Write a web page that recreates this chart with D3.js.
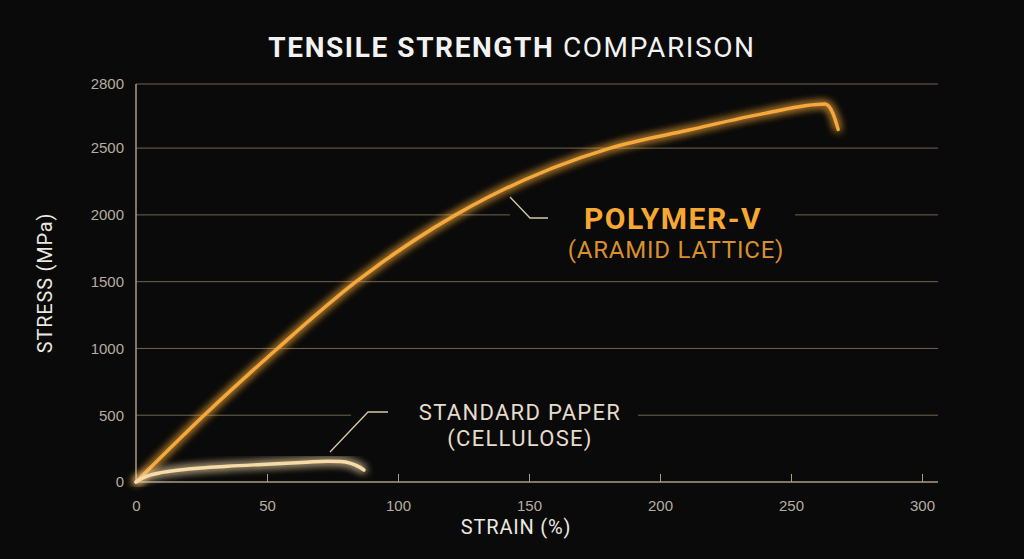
<!DOCTYPE html><html><head><meta charset="utf-8">
<script src="https://cdn.jsdelivr.net/npm/d3@7"></script>
<style>body{margin:0;background:#0a0a0a;}svg{display:block;font-family:Roboto,"DejaVu Sans",sans-serif;}</style>
</head><body><svg id="c" width="1024" height="559"></svg>
<script>
const polymerStrain=[0,26,54,84,122,181,211,240,263,266,268];
const polymerStress=[0,500,1000,1500,2000,2500,2635,2760,2830,2760,2640];
const paperStrain=[0,2,5,10,20,35,50,65,73,78,82,85,87];
const paperStress=[0,25,50,72,97,118,133,148,156,154,140,115,90];
const xTicks=[0,50,100,150,200,250,300];
const yTicks=[0,500,1000,1500,2000,2500,2980];
const yTickLabels=["0","500","1000","1500","2000","2500","2800"];

const svg=d3.select("#c");
const x=d3.scaleLinear().domain([0,300]).range([136,922]);
const y=d3.scaleLinear().domain([0,2980]).range([482,84]);
const defs=svg.append("defs");
const f=defs.append("filter").attr("id","glow").attr("x","-20%").attr("y","-20%").attr("width","140%").attr("height","140%");
f.append("feGaussianBlur").attr("stdDeviation",4).attr("result","b");
const m=f.append("feMerge");m.append("feMergeNode").attr("in","b");m.append("feMergeNode").attr("in","b");m.append("feMergeNode").attr("in","SourceGraphic");

svg.append("g").selectAll("line").data(yTicks.slice(1)).join("line")
 .attr("x1",136).attr("x2",938).attr("y1",d=>y(d)).attr("y2",d=>y(d))
 .attr("stroke","#6e6550").attr("stroke-width",1);
svg.append("rect").attr("x",510).attr("y",205).attr("width",285).attr("height",20).attr("fill","#0a0a0a");
svg.append("rect").attr("x",351).attr("y",405).attr("width",287).attr("height",16).attr("fill","#0a0a0a");

const ya=svg.append("g").attr("transform","translate(136,0)")
 .call(d3.axisLeft(y).tickValues(yTicks).tickFormat((d,i)=>yTickLabels[i]).tickSize(0).tickPadding(12));
const xa=svg.append("g").attr("transform","translate(0,482)")
 .call(d3.axisBottom(x).tickValues(xTicks).tickSize(-8).tickPadding(10));
[ya,xa].forEach(a=>{a.selectAll(".domain").attr("stroke","#a89d88").attr("stroke-width",1.5);
 a.selectAll("line").attr("stroke","#a89d88");
 a.selectAll("text").attr("fill","#b5ada0").attr("font-size",15);});
xa.select(".domain").attr("d","M136,0H938");
xa.selectAll(".tick text").attr("y",18);
ya.select(".domain").attr("d","M0,84V482");

const lc=d3.line().x(d=>x(d[0])).y(d=>y(d[1])).curve(d3.curveMonotoneX);
const poly=polymerStrain.map((s,i)=>[s,polymerStress[i]]);
const pap=paperStrain.map((s,i)=>[s,paperStress[i]]);
svg.append("path").attr("d",lc(poly)).attr("fill","none").attr("stroke","#f5a83a").attr("stroke-width",3.5).attr("filter","url(#glow)").attr("stroke-linecap","round");
svg.append("path").attr("d",lc(pap)).attr("fill","none").attr("stroke","#f6dba8").attr("stroke-width",3.5).attr("filter","url(#glow)").attr("stroke-linecap","round");

svg.append("path").attr("d","M510,197L530,218H548").attr("fill","none").attr("stroke","#d8c8a8").attr("stroke-width",1.3);
svg.append("path").attr("d","M330,452L368,412H388").attr("fill","none").attr("stroke","#d8c8a8").attr("stroke-width",1.3);

svg.append("text").attr("x",673).attr("y",229).attr("text-anchor","middle").attr("fill","#f7a832").attr("font-size",30).attr("font-weight","bold").attr("letter-spacing",1.5).text("POLYMER-V");
svg.append("text").attr("x",676).attr("y",258).attr("text-anchor","middle").attr("fill","#d8902c").attr("font-size",24).attr("letter-spacing",0.8).text("(ARAMID LATTICE)");
svg.append("text").attr("x",520).attr("y",420).attr("text-anchor","middle").attr("fill","#e6dccb").attr("font-size",22).attr("letter-spacing",1.3).text("STANDARD PAPER");
svg.append("text").attr("x",520).attr("y",446).attr("text-anchor","middle").attr("fill","#e6dccb").attr("font-size",22).attr("letter-spacing",1.3).text("(CELLULOSE)");

const t=svg.append("text").attr("x",512).attr("y",57).attr("text-anchor","middle").attr("fill","#f2f2f2").attr("font-size",28).attr("letter-spacing",1.6);
t.append("tspan").attr("font-weight","bold").text("TENSILE STRENGTH ");
t.append("tspan").text("COMPARISON");
svg.append("text").attr("x",516).attr("y",534).attr("text-anchor","middle").attr("fill","#ece8e0").attr("font-size",20).attr("letter-spacing",0.8).text("STRAIN (%)");
svg.append("text").attr("transform","translate(52,283) rotate(-90)").attr("text-anchor","middle").attr("fill","#ece8e0").attr("font-size",20).attr("letter-spacing",0.8).text("STRESS (MPa)");
</script></body></html>
